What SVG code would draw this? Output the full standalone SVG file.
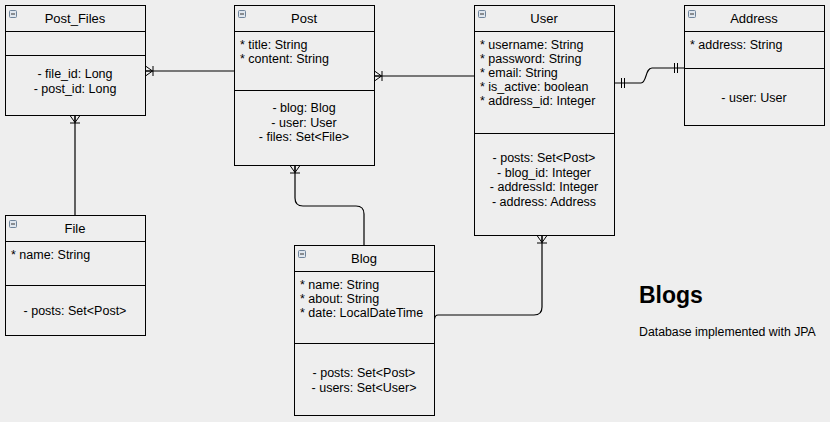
<svg xmlns="http://www.w3.org/2000/svg" width="830" height="422" viewBox="0 0 830 422">
<style>
.box{fill:#eeeeee;stroke:#000;stroke-width:1}
.ln{stroke:#000;stroke-width:1;fill:none}
.ic{fill:#dfe6ee;stroke:#6f849b;stroke-width:1}
.icd{stroke:#333;stroke-width:1}
text{font-family:"Liberation Sans",Arial,sans-serif;font-size:12.5px;fill:#000}
.t{font-size:13px;text-anchor:middle}
.c{text-anchor:middle}
.conn{stroke:#000;stroke-width:1.2;fill:none}
</style>
<defs>
<marker id="many" markerUnits="userSpaceOnUse" orient="auto-start-reverse" refX="0" refY="0" markerWidth="20" markerHeight="20" overflow="visible">
<path d="M0,-5 L-7,0 M0,5 L-7,0 M0,0 H-7 M-7.5,-5 V5" fill="none" stroke="#000" stroke-width="1"/>
</marker>
<marker id="one" markerUnits="userSpaceOnUse" orient="auto-start-reverse" refX="0" refY="0" markerWidth="20" markerHeight="20" overflow="visible">
<path d="M-7,-5 V5 M-10,-5 V5" fill="none" stroke="#000" stroke-width="1"/>
</marker>
</defs>
<rect width="830" height="422" fill="#eeeeee"/>

<g id="connectors">
<path class="conn" d="M145.5,71 H234.5" marker-start="url(#many)"/>
<path class="conn" d="M374.5,76 H474.5" marker-start="url(#many)"/>
<path class="conn" d="M614.5,83 H641 C647,83 645,68 652,68 H684.5" marker-start="url(#one)" marker-end="url(#one)"/>
<path class="conn" d="M75,115.5 V215.5" marker-start="url(#many)"/>
<path class="conn" d="M295,165.5 V198 Q295,206 303,206 H356 Q364,206 364,214 V245.5" marker-start="url(#many)"/>
<path class="conn" d="M542,235.5 V307 Q542,315 534,315 H438 Q435,315 434.5,319" marker-start="url(#many)"/>
</g>

<g id="post_files">
<rect class="box" x="5.5" y="5.5" width="140" height="110"/>
<path class="ln" d="M5.5,31.5 H145.5 M5.5,55.5 H145.5"/>
<rect class="ic" x="9.5" y="10.5" width="7" height="7" rx="1"/><path class="icd" d="M11,14 H15"/>
<text class="t" x="75" y="23">Post_Files</text>
<text class="c" x="75" y="77.5">- file_id: Long</text>
<text class="c" x="75" y="92.5">- post_id: Long</text>
</g>

<g id="post">
<rect class="box" x="234.5" y="5.5" width="140" height="160"/>
<path class="ln" d="M234.5,31.5 H374.5 M234.5,90.5 H374.5"/>
<rect class="ic" x="238.5" y="10.5" width="7" height="7" rx="1"/><path class="icd" d="M240,14 H244"/>
<text class="t" x="304" y="23">Post</text>
<text x="240" y="48.5">* title: String</text>
<text x="240" y="62.5">* content: String</text>
<text class="c" x="304" y="112">- blog: Blog</text>
<text class="c" x="304" y="127">- user: User</text>
<text class="c" x="304" y="141">- files: Set&lt;File&gt;</text>
</g>

<g id="user">
<rect class="box" x="474.5" y="5.5" width="140" height="230"/>
<path class="ln" d="M474.5,31.5 H614.5 M474.5,133.5 H614.5"/>
<rect class="ic" x="478.5" y="10.5" width="7" height="7" rx="1"/><path class="icd" d="M480,14 H484"/>
<text class="t" x="544" y="23">User</text>
<text x="480" y="48.5">* username: String</text>
<text x="480" y="62.5">* password: String</text>
<text x="480" y="76.5">* email: String</text>
<text x="480" y="90.5">* is_active: boolean</text>
<text x="480" y="104.5">* address_id: Integer</text>
<text class="c" x="544" y="162">- posts: Set&lt;Post&gt;</text>
<text class="c" x="544" y="176.5">- blog_id: Integer</text>
<text class="c" x="544" y="191">- addressId: Integer</text>
<text class="c" x="544" y="205.5">- address: Address</text>
</g>

<g id="address">
<rect class="box" x="684.5" y="5.5" width="140" height="120"/>
<path class="ln" d="M684.5,31.5 H824.5 M684.5,68.5 H824.5"/>
<rect class="ic" x="688.5" y="10.5" width="7" height="7" rx="1"/><path class="icd" d="M690,14 H694"/>
<text class="t" x="754" y="23">Address</text>
<text x="690" y="48.5">* address: String</text>
<text class="c" x="754" y="102">- user: User</text>
</g>

<g id="file">
<rect class="box" x="5.5" y="215.5" width="140" height="120"/>
<path class="ln" d="M5.5,241.5 H145.5 M5.5,285.5 H145.5"/>
<rect class="ic" x="9.5" y="220.5" width="7" height="7" rx="1"/><path class="icd" d="M11,224 H15"/>
<text class="t" x="75" y="233">File</text>
<text x="11" y="258.5">* name: String</text>
<text class="c" x="75" y="315">- posts: Set&lt;Post&gt;</text>
</g>

<g id="blog">
<rect class="box" x="294.5" y="245.5" width="140" height="170"/>
<path class="ln" d="M294.5,271.5 H434.5 M294.5,343.5 H434.5"/>
<rect class="ic" x="298.5" y="250.5" width="7" height="7" rx="1"/><path class="icd" d="M300,254 H304"/>
<text class="t" x="364" y="263">Blog</text>
<text x="300" y="288.5">* name: String</text>
<text x="300" y="302.5">* about: String</text>
<text x="300" y="316.5">* date: LocalDateTime</text>
<text class="c" x="364" y="377">- posts: Set&lt;Post&gt;</text>
<text class="c" x="364" y="391.5">-  users: Set&lt;User&gt;</text>
</g>

<g id="caption">
<text x="639" y="303" style="font-size:23px;font-weight:bold">Blogs</text>
<text x="639" y="336" style="font-size:12.3px">Database implemented with JPA</text>
</g>
</svg>
